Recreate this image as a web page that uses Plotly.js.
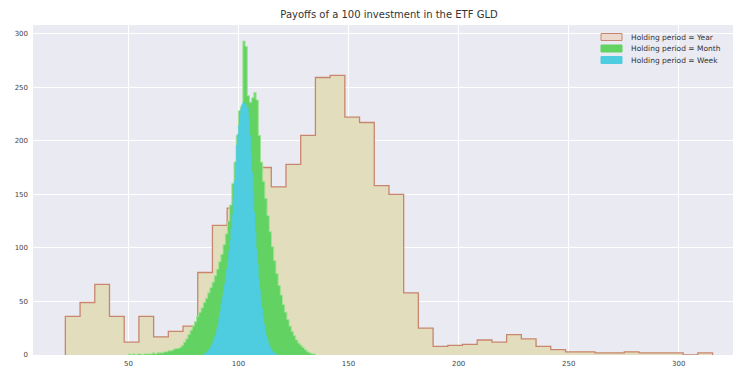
<!DOCTYPE html>
<html>
<head>
<meta charset="utf-8">
<script src="https://cdn.plot.ly/plotly-3.0.1.min.js"></script>
<style>
  html, body { margin: 0; padding: 0; background: #ffffff; width: 733px; height: 370px; overflow: hidden; }
  #chart { width: 760px; height: 370px; }
</style>
</head>
<body>
<div id="chart"></div>
<script>
// Payoff of a 100 investment in GLD, binned counts per holding period.

// Holding period = Year: 44 equal bins
const yearBinStart = 21.36;
const yearBinSize = 6.682;
const yearCounts = [36, 49, 66, 36, 12, 36, 17, 22, 27, 77, 121, 137, 160, 175, 157, 178, 205, 259,
  261, 222, 217, 158, 150, 58, 25, 8, 9, 10, 14, 12, 19, 15, 8, 5, 3, 3, 2, 2, 3, 2, 2, 2, 0, 2];

// Holding period = Month
const monthBinStart = 50;
const monthBinSize = 1;
const monthCounts = [1, 0, 1, 0, 1, 1, 0, 1, 1, 1, 1, 2, 1, 2, 2, 2, 3, 3, 4, 4, 5, 6, 6, 7, 9, 12, 15,
  19, 23, 27, 31, 36, 40, 44, 49, 53, 58, 63, 68, 74, 80, 87, 94, 103, 113, 125, 140, 160, 180, 205,
  228, 232, 293, 288, 242, 236, 240, 245, 238, 205, 180, 162, 146, 130, 115, 101, 88, 76, 65, 56, 47,
  40, 33, 27, 22, 18, 14, 11, 9, 7, 5, 3, 2, 1, 1];

// Holding period = Week
const weekBinStart = 84;
const weekBinSize = 0.5;
const weekCounts = [1, 1, 2, 3, 4, 5, 7, 9, 11, 14, 17, 20, 24, 29, 35, 41, 48, 54, 60, 66, 73, 80, 88,
  97, 107, 118, 131, 146, 162, 180, 196, 206, 214, 224, 230, 234, 236, 235, 234, 232, 230, 222, 205,
  188, 170, 152, 133, 115, 99, 85, 72, 61, 52, 44, 36, 29, 23, 18, 14, 11, 8, 6, 4, 3, 2, 1, 1];

const legendLabels = ['Holding period = Year', 'Holding period = Month', 'Holding period = Week'];

const yearColor = { fill: '#e2ddbd', line: '#c9866e', patch: '#ead9cc' };
const monthColor = { fill: '#62d262', edge: '#a2e294' };
const weekColor = '#4fcde0';

// histogram drawn as a closed step path: up from zero at the first edge,
// across every bin, and back down to zero at the last edge
function stepPath(start, size, counts) {
  const x = [start];
  const y = [0];
  counts.forEach((c, i) => { x.push(start + i * size); y.push(c); });
  x.push(start + counts.length * size);
  y.push(0);
  return { x, y };
}

const yearPath = stepPath(yearBinStart, yearBinSize, yearCounts);
const monthPath = stepPath(monthBinStart, monthBinSize, monthCounts);
const weekPath = stepPath(weekBinStart, weekBinSize, weekCounts);

const traces = [
  {
    type: 'scatter', mode: 'lines', x: yearPath.x, y: yearPath.y,
    line: { shape: 'hv', color: yearColor.line, width: 1.3 },
    fill: 'tozeroy', fillcolor: yearColor.fill,
    name: legendLabels[0], hoverinfo: 'skip'
  },
  {
    type: 'scatter', mode: 'lines', x: monthPath.x, y: monthPath.y,
    line: { shape: 'hv', color: monthColor.edge, width: 1.0 },
    fill: 'tozeroy', fillcolor: monthColor.fill,
    name: legendLabels[1], hoverinfo: 'skip'
  },
  {
    type: 'scatter', mode: 'lines', x: weekPath.x, y: weekPath.y,
    line: { shape: 'hv', color: weekColor, width: 0.5 },
    fill: 'tozeroy', fillcolor: weekColor,
    name: legendLabels[2], hoverinfo: 'skip'
  }
];

// figure geometry (px) for the hand-placed legend
const W = 760, H = 370;
const M = { l: 33, r: 15, t: 25, b: 15 };
const plotW = W - M.l - M.r, plotH = H - M.t - M.b;
const px = x => (x - M.l) / plotW;
const py = y => (H - M.b - y) / plotH;

const legendRows = [37, 48.5, 60];
const patchFill = [yearColor.patch, monthColor.fill, weekColor];
const patchLine = [yearColor.line, monthColor.fill, weekColor];

const shapes = legendRows.map((ry, i) => ({
  type: 'rect', xref: 'paper', yref: 'paper',
  x0: px(601), x1: px(622), y0: py(ry + 3.5), y1: py(ry - 3.5),
  fillcolor: patchFill[i], line: { color: patchLine[i], width: 1 }, layer: 'above'
}));

const annotations = legendRows.map((ry, i) => ({
  xref: 'paper', yref: 'paper', x: px(629), y: py(ry),
  xanchor: 'left', yanchor: 'middle', showarrow: false,
  text: legendLabels[i], font: { family: 'DejaVu Sans', size: 7.5, color: '#333' }
}));

const layout = {
  width: W, height: H,
  margin: M,
  paper_bgcolor: '#ffffff',
  plot_bgcolor: '#eaeaf2',
  showlegend: false,
  title: {
    text: 'Payoffs of a 100 investment in the ETF GLD',
    font: { family: 'DejaVu Sans', size: 10, color: '#333' },
    x: 0.5, xref: 'paper', xanchor: 'center', y: 1 - 14 / H, yanchor: 'middle'
  },
  xaxis: {
    range: [6.66, 330.1], tick0: 0, dtick: 50,
    showgrid: true, gridcolor: '#ffffff', gridwidth: 1,
    zeroline: false, showline: false, ticks: '',
    ticklabelstandoff: 3,
    tickfont: { family: 'DejaVu Sans', size: 7, color: '#444' },
    automargin: false
  },
  yaxis: {
    range: [0, 308], tick0: 0, dtick: 50,
    showgrid: true, gridcolor: '#ffffff', gridwidth: 1,
    zeroline: false, showline: false, ticks: '',
    ticklabelstandoff: 4,
    tickfont: { family: 'DejaVu Sans', size: 7, color: '#444' },
    automargin: false
  },
  shapes: shapes,
  annotations: annotations
};

Plotly.newPlot('chart', traces, layout, { displayModeBar: false, staticPlot: true });
</script>
</body>
</html>
